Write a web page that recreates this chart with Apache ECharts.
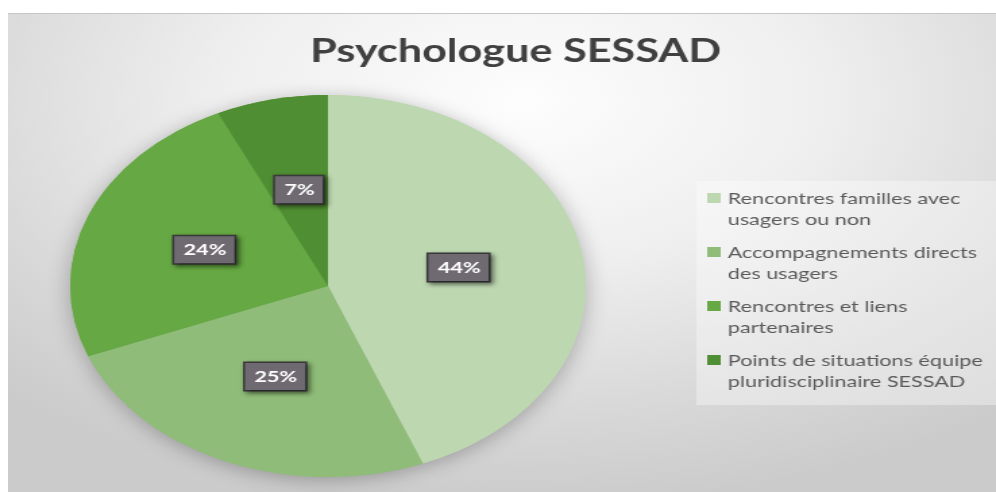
<!DOCTYPE html>
<html>
<head>
<meta charset="utf-8">
<script src="https://cdn.jsdelivr.net/npm/echarts@6/dist/echarts.min.js"></script>
<style>
  html, body { margin: 0; padding: 0; background: #ffffff; }
  #frame {
    position: absolute; left: 8px; top: 13px; width: 988px; height: 479px;
    border-top: 1px solid #c6c6c6;
    background: radial-gradient(ellipse 75% 85% at 52% 18%, #fdfdfd 0%, #efefef 40%, #d9d9d9 75%, #cbcbcb 100%);
  }
  /* le graphique source est étiré horizontalement */
  #main {
    position: absolute; left: 0; top: 0; width: 738px; height: 492px;
    transform: scaleX(1.3496); transform-origin: 0 0;
  }
</style>
</head>
<body>
<div id="frame"></div>
<div id="main"></div>
<script>
var categories = [
    'Rencontres familles avec usagers ou non',
    'Accompagnements directs des usagers',
    'Rencontres et liens partenaires',
    'Points de situations équipe pluridisciplinaire SESSAD'
];
// retour à la ligne comme dans la légende d'origine
var legendLines = [
    'Rencontres familles avec\nusagers ou non',
    'Accompagnements directs\ndes usagers',
    'Rencontres et liens\npartenaires',
    'Points de situations équipe\npluridisciplinaire SESSAD'
];
var values = [44, 25, 24, 7];
var colors = ['#bdd7b1', '#8fbc78', '#66a843', '#4f8e32'];

var myChart = echarts.init(document.getElementById('main'), null, { renderer: 'canvas' });

var pieData = categories.map(function (name, i) {
    return { name: name, value: values[i] };
});

option = {
    color: colors,
    animation: false,
    textStyle: { fontFamily: 'Lato' },
    title: {
        text: 'Psychologue SESSAD',
        left: 377,
        top: 31,
        textAlign: 'center',
        textStyle: { fontFamily: 'Lato', fontWeight: 'bold', fontSize: 32, color: '#404040' }
    },
    graphic: [{
        type: 'rect',
        left: 516, top: 181,
        shape: { width: 222, height: 224 },
        style: { fill: 'rgba(255,255,255,0.35)' },
        z: -1
    }],
    legend: {
        orient: 'vertical',
        left: 524,
        top: 188,
        padding: 0,
        itemWidth: 10.5,
        itemHeight: 32,
        itemGap: 12,
        data: categories,
        // carré en haut : aligné sur la première ligne du texte
        icon: 'path://M0,0L10,0L10,10L0,10Z M0,32L0,32Z',
        formatter: function (name) {
            return legendLines[categories.indexOf(name)];
        },
        textStyle: {
            fontFamily: 'Lato', fontSize: 16, color: '#595959', lineHeight: 21
        }
    },
    series: [
        {
            // ombre douce sous le camembert
            name: 'ombre',
            type: 'pie',
            silent: true,
            center: [243, 286],
            radius: 191,
            startAngle: 90,
            label: { show: false },
            labelLine: { show: false },
            itemStyle: { shadowBlur: 18, shadowColor: 'rgba(0,0,0,0.28)', shadowOffsetY: 3 },
            data: pieData,
            z: 1
        },
        {
            name: 'Psychologue SESSAD',
            type: 'pie',
            center: [243, 286],
            radius: 191,
            startAngle: 90,
            itemStyle: { borderWidth: 0 },
            label: {
                show: true,
                position: 'inside',
                formatter: '{c}%',
                fontFamily: 'Lato',
                fontWeight: 'bold',
                fontSize: 16,
                color: '#ffffff',
                backgroundColor: '#6f6a72',
                borderColor: '#3b3b3b',
                borderWidth: 1.5,
                padding: [6, 6, 5, 7],
                shadowColor: 'rgba(0,0,0,0.45)',
                shadowBlur: 4,
                shadowOffsetX: 2,
                shadowOffsetY: 2
            },
            labelLine: { show: false },
            emphasis: { scale: false },
            data: pieData,
            z: 2
        }
    ]
};
myChart.setOption(option);
</script>
</body>
</html>
